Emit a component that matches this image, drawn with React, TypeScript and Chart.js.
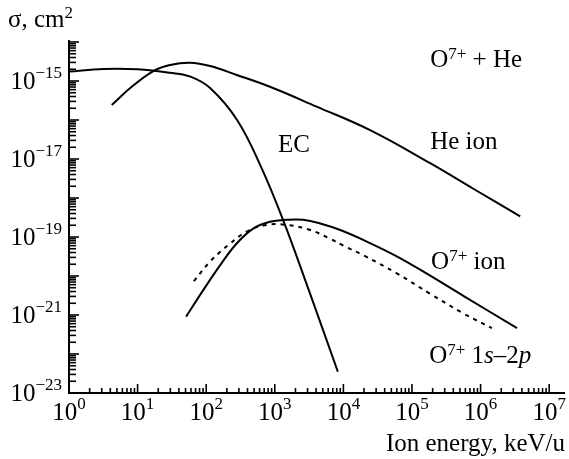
import React, { useEffect, useRef } from "react";
import { Chart, registerables } from "chart.js";

Chart.register(...registerables);

// ---- Data (energy in keV/u, cross section in cm^2) ----
const ecEnergy = [1, 3.2, 10, 29.5, 59, 115, 282, 630, 1320, 3200, 8300];
const ecSigma = [1.74e-15, 2.04e-15, 2.0e-15, 1.63e-15, 1.29e-15, 6.5e-16, 1.0e-16, 6.3e-18, 2.75e-19, 3.9e-21, 3.5e-23];

const heEnergy = [4.2, 8.2, 17, 29.7, 58, 114, 279, 850, 3980, 24500, 184000, 794000, 3780000];
const heSigma = [2.43e-16, 7.1e-16, 1.8e-15, 2.57e-15, 2.95e-15, 2.43e-15, 1.43e-15, 7.1e-16, 2.24e-16, 5.5e-17, 7.8e-18, 1.7e-18, 3.4e-19];

const oIonEnergy = [51, 91, 160, 280, 490, 850, 1500, 2600, 4600, 9000, 19500, 60000, 184000, 560000, 3400000];
const oIonSigma = [9.1e-22, 4.4e-21, 1.9e-20, 6.9e-20, 1.66e-19, 2.45e-19, 2.75e-19, 2.75e-19, 2.22e-19, 1.51e-19, 8.4e-20, 3.2e-20, 1.02e-20, 3.1e-21, 4.6e-22];

const o1s2pEnergy = [66, 114, 210, 390, 760, 1500, 3300, 6400, 10000, 19500, 60000, 184000, 560000, 1460000];
const o1s2pSigma = [7.4e-21, 2.34e-20, 6.2e-20, 1.38e-19, 2.04e-19, 2.04e-19, 1.51e-19, 9.0e-20, 6.0e-20, 3.4e-20, 1.17e-20, 3.5e-21, 1.1e-21, 4.6e-22];

// ---- Axes ----
const xMin = 1;
const xMax = 1.7e7;
const xDecadeExponents = [0, 1, 2, 3, 4, 5, 6, 7];
const yMin = 1e-23;
const yMax = 1e-14;
const yDecadeExponents = [-23, -22, -21, -20, -19, -18, -17, -16, -15, -14];
const yLabelExponents = [-23, -21, -19, -17, -15];

// ---- Annotations ----
type Run = { t: string; sup?: boolean; it?: boolean };
const annotationTexts: Run[][] = [
  [{ t: "O" }, { t: "7+", sup: true }, { t: " + He" }],
  [{ t: "He ion" }],
  [{ t: "EC" }],
  [{ t: "O" }, { t: "7+", sup: true }, { t: " ion" }],
  [{ t: "O" }, { t: "7+", sup: true }, { t: " 1" }, { t: "s", it: true }, { t: "–2" }, { t: "p", it: true }],
];
const annotationEnergy = [1.84e5, 1.84e5, 1117, 1.9e5, 1.78e5];
const annotationSigma = [2.34e-15, 1.78e-17, 1.55e-17, 1.48e-20, 5.75e-23];

const yTitle: Run[] = [{ t: "σ, cm" }, { t: "2", sup: true }];
const xTitle: Run[] = [{ t: "Ion energy, keV/u" }];

const FONT = '"Liberation Serif", "Times New Roman", serif';

function drawRuns(
  ctx: CanvasRenderingContext2D,
  runs: Run[],
  x: number,
  y: number,
  align: "left" | "right" | "center",
  size = 25,
  supSize = 17,
  rise = 8
) {
  const fontOf = (r: Run) => `${r.it ? "italic " : ""}${r.sup ? supSize : size}px ${FONT}`;
  let w = 0;
  for (const r of runs) {
    ctx.font = fontOf(r);
    w += ctx.measureText(r.t).width;
  }
  let cx = align === "left" ? x : align === "right" ? x - w : x - w / 2;
  ctx.textAlign = "left";
  ctx.textBaseline = "alphabetic";
  for (const r of runs) {
    ctx.font = fontOf(r);
    ctx.fillText(r.t, cx, r.sup ? y - rise : y);
    cx += ctx.measureText(r.t).width;
  }
}

const customPlugin = {
  id: "customAxes",
  afterDraw(chart: any) {
    const ctx: CanvasRenderingContext2D = chart.ctx;
    const xs = chart.scales.x;
    const ys = chart.scales.y;
    const a = chart.chartArea;
    ctx.save();
    ctx.strokeStyle = "#000";
    ctx.fillStyle = "#000";

    // axis lines
    ctx.lineWidth = 2;
    ctx.beginPath();
    ctx.moveTo(a.left, a.top - 2);
    ctx.lineTo(a.left, a.bottom);
    ctx.lineTo(a.right, a.bottom);
    ctx.stroke();

    // x ticks (inward)
    ctx.lineWidth = 1.6;
    const lastX = xDecadeExponents[xDecadeExponents.length - 1];
    for (const e of xDecadeExponents) {
      const base = Math.pow(10, e);
      const px = xs.getPixelForValue(base);
      ctx.beginPath();
      ctx.moveTo(px, a.bottom);
      ctx.lineTo(px, a.bottom - 9);
      ctx.stroke();
      if (e < lastX) {
        for (let m = 2; m <= 9; m++) {
          const p = xs.getPixelForValue(base * m);
          ctx.beginPath();
          ctx.moveTo(p, a.bottom);
          ctx.lineTo(p, a.bottom - 5);
          ctx.stroke();
        }
      }
      drawRuns(ctx, [{ t: "10" }, { t: String(e), sup: true }], px, a.bottom + 27, "center", 25, 17, 11.5);
    }

    // y ticks (inward)
    const lastY = yDecadeExponents[yDecadeExponents.length - 1];
    for (const e of yDecadeExponents) {
      const base = Math.pow(10, e);
      const py = ys.getPixelForValue(base);
      ctx.beginPath();
      ctx.moveTo(a.left, py);
      ctx.lineTo(a.left + 10, py);
      ctx.stroke();
      if (e < lastY) {
        for (let m = 2; m <= 9; m++) {
          const p = ys.getPixelForValue(base * m);
          ctx.beginPath();
          ctx.moveTo(a.left, p);
          ctx.lineTo(a.left + 7, p);
          ctx.stroke();
        }
      }
      if (yLabelExponents.includes(e)) {
        drawRuns(ctx, [{ t: "10" }, { t: "−" + String(Math.abs(e)), sup: true }], a.left - 7, py + 7.7, "right", 25, 17, 11);
      }
    }

    // axis titles
    drawRuns(ctx, yTitle, 8, a.top - 15, "left", 25, 17, 9);
    drawRuns(ctx, xTitle, a.right, a.bottom + 58, "right", 25, 17, 9);

    // annotations
    annotationTexts.forEach((runs, i) => {
      const px = xs.getPixelForValue(annotationEnergy[i]);
      const py = ys.getPixelForValue(annotationSigma[i]);
      drawRuns(ctx, runs, px, py, "left", 25, 17, 8);
    });

    ctx.restore();
  },
};

function toPoints(xs: number[], ys: number[]) {
  return xs.map((x, i) => ({ x, y: ys[i] }));
}

export default function App() {
  const canvasRef = useRef<HTMLCanvasElement | null>(null);

  useEffect(() => {
    document.body.style.margin = "0";
    const canvas = canvasRef.current;
    if (!canvas) return;
    const common = {
      borderColor: "#000",
      backgroundColor: "#000",
      borderWidth: 2,
      pointRadius: 0,
      fill: false,
      tension: 0.4,
    };
    const chart = new Chart(canvas, {
      type: "line",
      data: {
        datasets: [
          { ...common, label: "EC", data: toPoints(ecEnergy, ecSigma) },
          { ...common, label: "He ion", data: toPoints(heEnergy, heSigma) },
          { ...common, label: "O7+ ion", data: toPoints(oIonEnergy, oIonSigma) },
          { ...common, label: "O7+ 1s-2p", data: toPoints(o1s2pEnergy, o1s2pSigma), borderDash: [4, 5] },
        ],
      },
      options: {
        animation: false,
        responsive: false,
        maintainAspectRatio: false,
        devicePixelRatio: 1,
        parsing: false as any,
        layout: { padding: { left: 69, top: 42, right: 4, bottom: 66 } },
        plugins: { legend: { display: false }, tooltip: { enabled: false } },
        scales: {
          x: { type: "logarithmic", min: xMin, max: xMax, display: false },
          y: { type: "logarithmic", min: yMin, max: yMax, display: false },
        },
      },
      plugins: [customPlugin],
    });
    return () => chart.destroy();
  }, []);

  return (
    <div style={{ position: "absolute", left: 0, top: 0, width: 569, height: 459, background: "#fff" }}>
      <canvas ref={canvasRef} width={569} height={459} style={{ display: "block" }} />
    </div>
  );
}
